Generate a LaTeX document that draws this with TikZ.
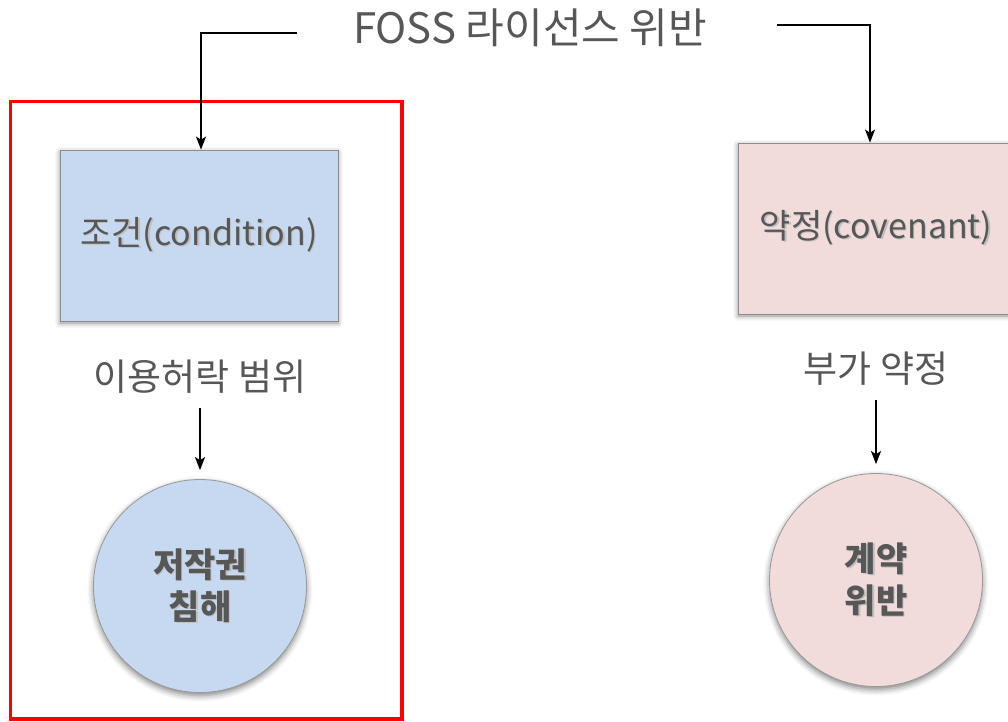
\documentclass[tikz,border=0pt]{standalone}
\usepackage{fontspec}
\setmainfont{Noto Sans CJK KR}
\usetikzlibrary{shadows.blur,arrows.meta}
\definecolor{txt}{HTML}{575757}
\definecolor{bluef}{HTML}{C6D9F0}
\definecolor{pinkf}{HTML}{F2DCDB}
\newcommand{\shd}[1]{\leavevmode\rlap{\hspace{1.5pt}\raisebox{-1.5pt}{\textcolor{black!25}{#1}}}#1}
\tikzset{
  arr/.style={line width=1.6pt,-{Stealth[length=13pt,width=10pt,inset=3pt]}},
  boxnode/.style={rectangle,draw=black!45,line width=0.8pt,minimum width=278pt,minimum height=171pt,
     inner sep=0pt,text=txt,font=\fontsize{34}{40}\selectfont,
     blur shadow={shadow xshift=0pt,shadow yshift=-2pt,shadow blur radius=5pt,shadow opacity=45}},
  circnode/.style={circle,draw=black!40,line width=0.8pt,minimum size=213pt,inner sep=0pt,
     text=txt,align=center,font=\bfseries\fontsize{34}{42}\selectfont,
     blur shadow={shadow xshift=0pt,shadow yshift=-3pt,shadow blur radius=6pt,shadow opacity=50}},
  lab/.style={text=txt,inner sep=0pt,font=\fontsize{37}{42}\selectfont},
}
\begin{document}
\begin{tikzpicture}[x=1pt,y=-1pt]
\useasboundingbox (0,0) rectangle (1008,721);
\clip (0,0) rectangle (1008,721);
\node[text=txt,inner sep=0pt,font=\fontsize{42}{46}\selectfont] (title) at (530,28) {FOSS 라이선스 위반};
\draw[red,line width=3.5pt] (10.5,101.5) rectangle (402,719);
\node[boxnode,fill=bluef] (cond) at (199,235.5) {\shd{조건(condition)}};
\node[boxnode,fill=pinkf,minimum width=276pt] (cov) at (876,228.5) {\shd{약정(covenant)}};
\node[lab] (scope) at (200,377) {이용허락 범위};
\node[lab] (extra) at (876,369) {부가 약정};
\node[circnode,fill=bluef] (copy) at (200,586) {\shd{저작권}\\\shd{침해}};
\node[circnode,fill=pinkf] (breach) at (876,580) {\shd{계약}\\\shd{위반}};
\coordinate (tl) at (297,33);
\coordinate (tr) at (777,25);
\draw[arr] (tl) -| ([xshift=2pt]cond.north);
\draw[arr] (tr) -| ([xshift=-6pt]cov.north);
\draw[arr,shorten <=14pt,shorten >=9pt] (scope.south) -- (copy.north);
\draw[arr,shorten <=14pt,shorten >=9pt] (extra.south) -- (breach.north);
\end{tikzpicture}
\end{document}
